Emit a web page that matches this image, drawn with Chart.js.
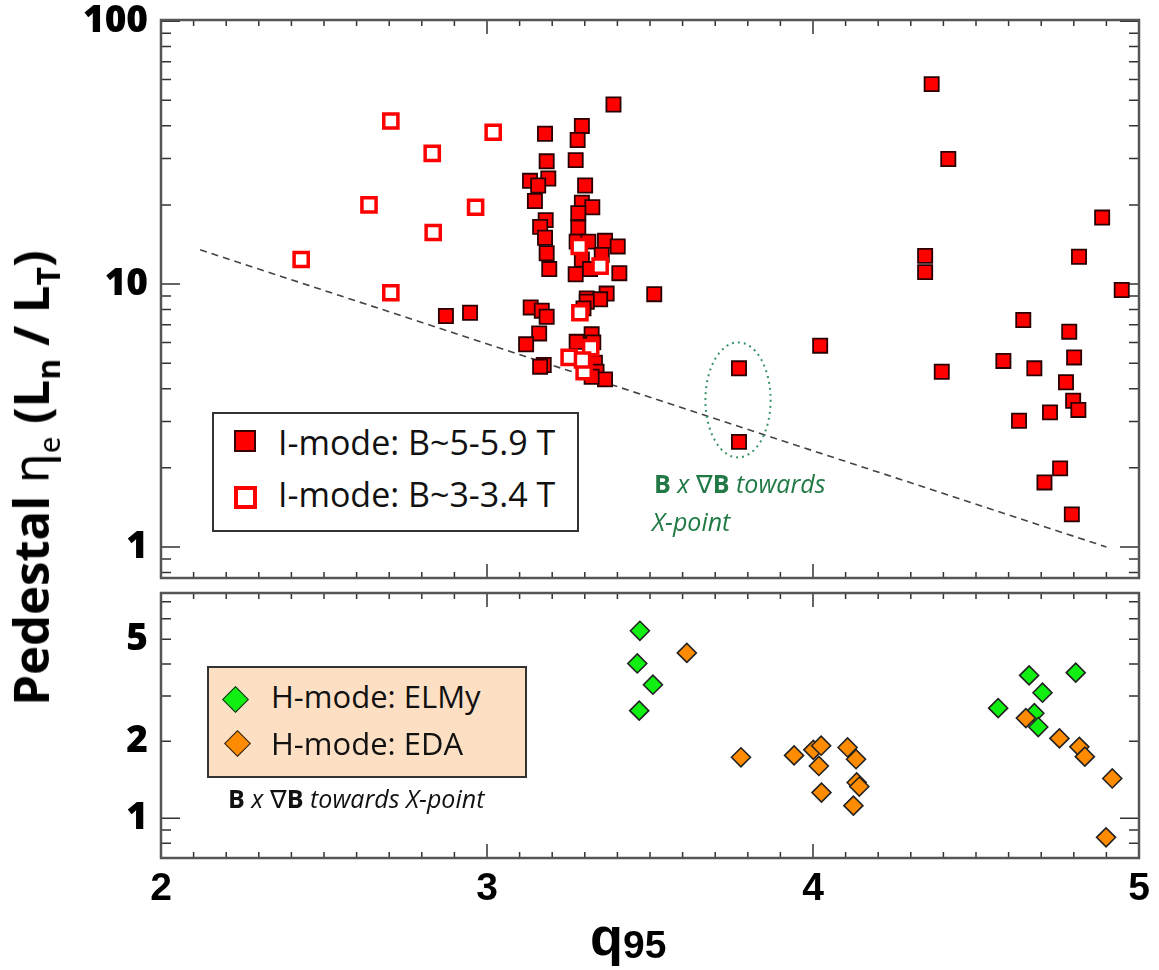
<!DOCTYPE html>
<html>
<head>
<meta charset="utf-8">
<script src="https://cdn.jsdelivr.net/npm/chart.js@4.4.1/dist/chart.umd.min.js"></script>
<style>
  body { margin: 0; background: #fff; width: 1159px; height: 970px; overflow: hidden; position: relative; font-family: "Open Sans", sans-serif; }
  canvas { position: absolute; left: 0; }
  #top { top: 0; }
  #bot { top: 580px; }
  .txt { position: absolute; white-space: nowrap; line-height: 1; }
  .box { position: absolute; box-sizing: border-box; border: 2px solid #333; }
  .mk { position: absolute; box-sizing: border-box; }
</style>
</head>
<body>
<canvas id="top" width="1159" height="600"></canvas>
<canvas id="bot" width="1159" height="390"></canvas>

<!-- legend, upper panel -->
<div class="box" style="left:212px;top:412px;width:367px;height:120px;background:#fff;"></div>
<div class="mk" style="left:234px;top:430px;width:22px;height:22px;background:#f00;border:2px solid #3a0000;"></div>
<div class="mk" style="left:234px;top:486px;width:23px;height:23px;background:#fff;border:4px solid #f00;"></div>
<div class="txt" style="left:278px;top:425px;font-size:34px;color:#111;">I-mode: B~5-5.9 T</div>
<div class="txt" style="left:278px;top:477px;font-size:34px;color:#111;">I-mode: B~3-3.4 T</div>

<!-- legend, lower panel -->
<div class="box" style="left:207px;top:666px;width:320px;height:112px;background:#fde0c4;"></div>
<div class="mk" style="left:226px;top:690px;width:19px;height:19px;background:#11ee11;border:1.5px solid #222;transform:rotate(45deg);"></div>
<div class="mk" style="left:228px;top:734px;width:19px;height:19px;background:#ff8c00;border:1.5px solid #222;transform:rotate(45deg);"></div>
<div class="txt" style="left:271px;top:681px;font-size:31px;color:#111;">H-mode: ELMy</div>
<div class="txt" style="left:271px;top:728px;font-size:31px;color:#111;">H-mode: EDA</div>
<div class="txt" style="left:228px;top:786px;font-size:25px;color:#111;"><b>B</b> <i>x</i> ∇<b>B</b> <i>towards X-point</i></div>

<!-- annotation for the circled points -->
<div class="txt" style="left:654px;top:471px;font-size:25px;color:#217a45;"><b>B</b> <i>x</i> ∇<b>B</b> <i>towards</i></div>
<div class="txt" style="left:652px;top:509px;font-size:25px;color:#217a45;"><i>X-point</i></div>

<!-- axis titles -->
<div class="txt" id="ytitle" style="left:33px;top:478px;transform:translate(-50%,-50%) rotate(-90deg);font-size:49px;font-weight:700;line-height:1.36;">Pedestal <span style="font-weight:400;font-family:'Noto Sans',sans-serif;">η<sub style="font-size:0.6em;">e</sub></span> (L<sub style="font-size:0.65em;">n</sub> / L<sub style="font-size:0.65em;">T</sub>)</div>
<div class="txt" style="left:590px;top:909px;font-family:'Liberation Sans',sans-serif;font-weight:700;color:#000;"><span style="font-size:54px;">q</span><span style="font-size:39px;position:relative;top:3px;">95</span></div>

<script>
// I-mode, B ~ 5-5.9 T (filled squares)
const iHighQ = [3.388, 3.291, 3.178, 3.278, 3.183, 3.272, 3.132, 3.188, 3.157, 3.301,
  3.147, 3.291, 3.323, 3.280, 3.180, 3.163, 3.280, 3.178, 3.275, 3.311,
  3.362, 3.401, 3.183, 3.291, 3.352, 3.191, 3.272, 3.316, 3.406, 3.513,
  3.367, 3.306, 3.347, 3.306, 3.296, 3.134, 3.168, 3.183, 2.874, 2.948,
  3.160, 3.120, 3.321, 3.275, 3.326, 3.174, 3.163, 3.331, 3.336, 3.362,
  3.321, 4.364, 4.415, 4.887, 4.344, 4.344, 4.816, 4.947, 4.022, 3.773,
  3.773, 4.645, 4.786, 4.584, 4.801, 4.679, 4.776, 4.395, 4.798, 4.814,
  4.727, 4.632, 4.758, 4.710, 4.794];
const iHighEta = [48.2, 39.9, 37.3, 35.3, 29.3, 29.6, 24.7, 25.2, 23.7, 23.7,
  20.7, 20.4, 19.6, 18.6, 17.5, 16.5, 16.4, 15.0, 14.5, 14.5,
  14.6, 13.9, 13.1, 12.4, 12.9, 11.4, 10.9, 11.4, 11.0, 9.15,
  9.2, 8.82, 8.75, 8.57, 8.08, 8.15, 7.92, 7.51, 7.56, 7.78,
  6.49, 5.90, 6.44, 6.03, 6.0, 4.92, 4.85, 5.02, 4.64, 4.34,
  4.44, 57.6, 29.9, 17.9, 12.8, 11.1, 12.7, 9.49, 5.83, 4.78,
  2.51, 7.30, 6.59, 5.10, 5.26, 4.78, 4.23, 4.64, 3.60, 3.32,
  3.25, 3.02, 1.99, 1.76, 1.33];

// I-mode, B ~ 3-3.4 T (open squares)
const iLowQ = [2.705, 3.019, 2.832, 2.638, 2.965, 2.835, 2.430, 2.705, 3.283, 3.347,
  3.285, 3.252, 3.318, 3.298, 3.293];
const iLowEta = [41.7, 37.8, 31.4, 20.0, 19.6, 15.7, 12.4, 9.27, 13.9, 11.7,
  7.78, 5.26, 5.73, 4.64, 5.14];

// dashed boundary
const boundaryQ = [2.12, 4.90];
const boundaryEta = [13.5, 1.0];

// H-mode ELMy (green diamonds)
const elmyQ = [3.469, 3.461, 3.509, 3.467, 4.663, 4.806, 4.704, 4.568, 4.679, 4.691];
const elmyEta = [5.39, 4.02, 3.32, 2.63, 3.61, 3.70, 3.09, 2.69, 2.57, 2.27];

// H-mode EDA (orange diamonds)
const edaQ = [3.613, 3.779, 3.942, 4.001, 4.025, 4.018, 4.026, 4.106, 4.132, 4.134,
  4.142, 4.124, 4.653, 4.756, 4.817, 4.834, 4.918, 4.899];
const edaEta = [4.42, 1.73, 1.76, 1.85, 1.92, 1.60, 1.26, 1.89, 1.70, 1.38,
  1.33, 1.12, 2.46, 2.05, 1.90, 1.74, 1.43, 0.843];

// circled pair (ellipse extent in data units)
const ringQ = [3.67, 3.87];
const ringEta = [2.19, 6.0];

// axes
const qRange = [2, 5];
const qLabels = [2, 3, 4, 5];
const qMinor = [];
for (let i = 21; i < 50; i++) if (i % 10) qMinor.push(i / 10);
const topRange = [0.762, 101];
const topLabels = [1, 10, 100];
const topMinor = [0.8, 0.9, 2, 3, 4, 5, 6, 7, 8, 9, 20, 30, 40, 50, 60, 70, 80, 90];
const botRange = [0.737, 7.57];
const botLabels = [1, 2, 5];
const botMajor = [1];
const botMinor = [0.8, 0.9, 2, 3, 4, 5, 6, 7];

const pts = (xs, ys) => xs.map((x, i) => ({ x, y: ys[i] }));

const frameTicks = {
  id: "frameTicks",
  beforeDatasetsDraw(chart, args, o) {
    const { ctx, chartArea: a, scales: { x, y } } = chart;
    ctx.save();
    ctx.strokeStyle = "#333";
    ctx.lineWidth = 1.5;
    ctx.beginPath();
    const xt = (vals, len) => vals.forEach(v => {
      const px = x.getPixelForValue(v);
      ctx.moveTo(px, a.top); ctx.lineTo(px, a.top + len);
      ctx.moveTo(px, a.bottom); ctx.lineTo(px, a.bottom - len);
    });
    const yt = (vals, len) => vals.forEach(v => {
      const py = y.getPixelForValue(v);
      ctx.moveTo(a.left, py); ctx.lineTo(a.left + len, py);
      ctx.moveTo(a.right, py); ctx.lineTo(a.right - len, py);
    });
    xt(o.xMajor, 14);
    xt(o.xMinor, 6);
    yt(o.yMajor, 19);
    yt(o.yMinor, 10);
    ctx.stroke();
    ctx.strokeStyle = "#555";
    ctx.lineWidth = 2.5;
    ctx.strokeRect(a.left, a.top, a.right - a.left, a.bottom - a.top);
    ctx.restore();
  }
};

const ring = {
  id: "ring",
  afterDatasetsDraw(chart) {
    const { ctx, scales: { x, y } } = chart;
    const x0 = x.getPixelForValue(ringQ[0]), x1 = x.getPixelForValue(ringQ[1]);
    const y0 = y.getPixelForValue(ringEta[0]), y1 = y.getPixelForValue(ringEta[1]);
    ctx.save();
    ctx.strokeStyle = "#3a9468";
    ctx.lineWidth = 2;
    ctx.setLineDash([2, 4]);
    ctx.beginPath();
    ctx.ellipse((x0 + x1) / 2, (y0 + y1) / 2, Math.abs(x1 - x0) / 2, Math.abs(y1 - y0) / 2, 0, 0, Math.PI * 2);
    ctx.stroke();
    ctx.restore();
  }
};

const yTickFont = { family: "'Open Sans', sans-serif", size: 37, weight: 800, lineHeight: 1 };
const fitY = s => { s.width = 161; s.paddingTop = 0; s.paddingBottom = 0; };

new Chart(document.getElementById("top"), {
  type: "scatter",
  data: {
    datasets: [
      {
        label: "I-mode: B~3-3.4 T", data: pts(iLowQ, iLowEta), order: 0,
        pointStyle: "rect", pointRadius: 10, backgroundColor: "#fff", borderColor: "#f00", borderWidth: 3.5
      },
      {
        label: "I-mode: B~5-5.9 T", data: pts(iHighQ, iHighEta), order: 1,
        pointStyle: "rect", pointRadius: 10, backgroundColor: "#f00", borderColor: "#2a0000", borderWidth: 1.8
      },
      {
        type: "line", label: "boundary", data: pts(boundaryQ, boundaryEta), order: 2,
        borderColor: "#444", borderWidth: 1.6, borderDash: [7, 5], pointRadius: 0, fill: false
      }
    ]
  },
  options: {
    responsive: false,
    animation: false,
    layout: { padding: { left: 0, top: 20, right: 20, bottom: 22 } },
    plugins: {
      legend: { display: false },
      tooltip: { enabled: false },
      frameTicks: { xMajor: qLabels, xMinor: qMinor, yMajor: topLabels, yMinor: topMinor }
    },
    scales: {
      x: { type: "linear", min: qRange[0], max: qRange[1], display: false },
      y: {
        type: "logarithmic", min: topRange[0], max: topRange[1],
        grid: { display: false, drawTicks: false }, border: { display: false },
        afterBuildTicks: s => { s.ticks = topLabels.map(v => ({ value: v })); },
        afterFit: fitY,
        ticks: { autoSkip: false, padding: 13, color: "#000", font: yTickFont, callback: v => String(v) }
      }
    }
  },
  plugins: [frameTicks, ring]
});

new Chart(document.getElementById("bot"), {
  type: "scatter",
  data: {
    datasets: [
      {
        label: "H-mode: EDA", data: pts(edaQ, edaEta), order: 0,
        pointStyle: "rectRot", pointRadius: 9.5, backgroundColor: "#ff8c00", borderColor: "#222", borderWidth: 1.6
      },
      {
        label: "H-mode: ELMy", data: pts(elmyQ, elmyEta), order: 1,
        pointStyle: "rectRot", pointRadius: 9.5, backgroundColor: "#11ee11", borderColor: "#222", borderWidth: 1.6
      }
    ]
  },
  options: {
    responsive: false,
    animation: false,
    layout: { padding: { left: 0, top: 13, right: 20, bottom: 52 } },
    plugins: {
      legend: { display: false },
      tooltip: { enabled: false },
      frameTicks: { xMajor: qLabels, xMinor: qMinor, yMajor: botMajor, yMinor: botMinor }
    },
    scales: {
      x: {
        type: "linear", min: qRange[0], max: qRange[1],
        grid: { display: false, drawTicks: false }, border: { display: false },
        afterBuildTicks: s => { s.ticks = qLabels.map(v => ({ value: v })); },
        afterFit: s => { s.height = 60; s.paddingLeft = 0; s.paddingRight = 0; },
        ticks: {
          autoSkip: false, maxRotation: 0, padding: 12, color: "#000",
          font: { family: "'Liberation Sans', sans-serif", size: 39, weight: 700, lineHeight: 1 },
          callback: v => String(v)
        }
      },
      y: {
        type: "logarithmic", min: botRange[0], max: botRange[1],
        grid: { display: false, drawTicks: false }, border: { display: false },
        afterBuildTicks: s => { s.ticks = botLabels.map(v => ({ value: v })); },
        afterFit: fitY,
        ticks: { autoSkip: false, padding: 13, color: "#000", font: yTickFont, callback: v => String(v) }
      }
    }
  },
  plugins: [frameTicks]
});
</script>
</body>
</html>
